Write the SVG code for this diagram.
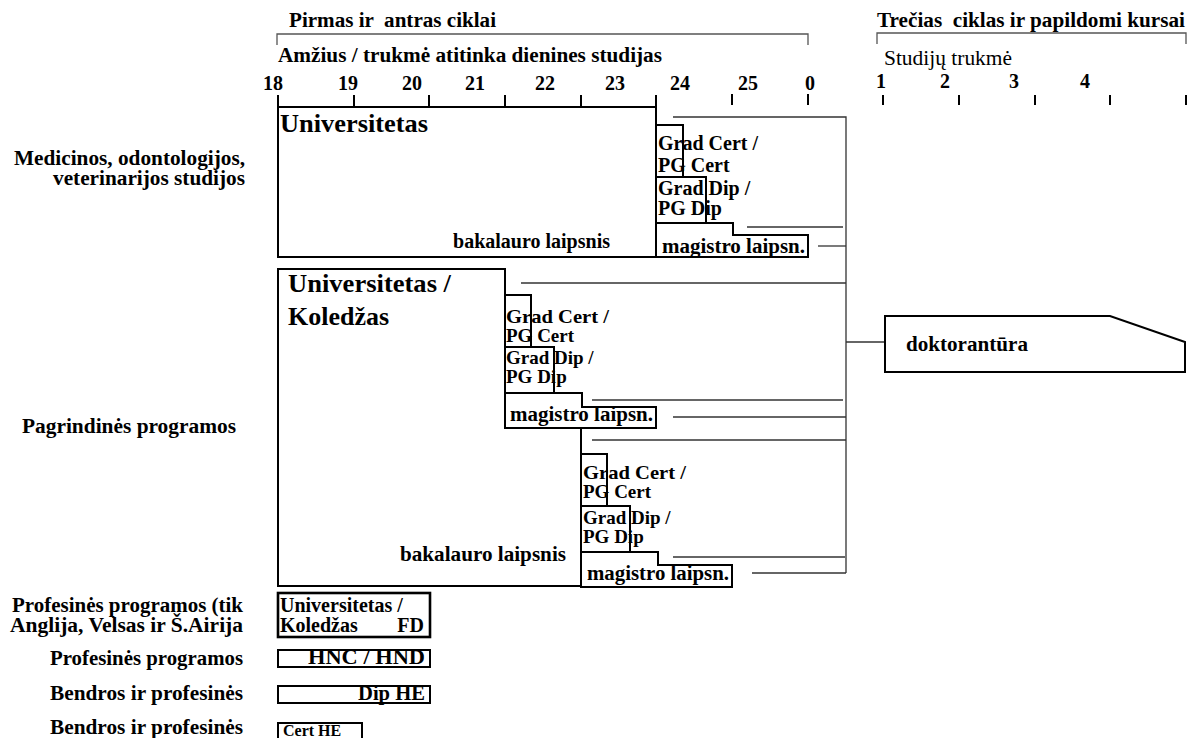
<svg xmlns="http://www.w3.org/2000/svg" width="1196" height="738" viewBox="0 0 1196 738">
  <style>
    .t { font-family: "Liberation Serif", "Times New Roman", serif; font-weight: bold; font-size: 20px; fill: #000; }
    .big { font-size: 26px; }
    .reg { font-weight: normal; }
    .sm { font-size: 16px; }
    .gr { font-size: 19px; }
    .end { text-anchor: end; }
    .mid { text-anchor: middle; }
    .box { fill: none; stroke: #000; stroke-width: 2; }
    .dbl { fill: none; stroke: #000; stroke-width: 2.6; }
    .conn { fill: none; stroke: #333; stroke-width: 1.3; }
    .tick { stroke: #000; stroke-width: 2; }
    .brace { fill: none; stroke: #555; stroke-width: 1.3; }
  </style>
  <rect width="1196" height="738" fill="#fff"/>

  <!-- headings and time scales -->
  <g id="scale-cycles-1-2">
    <text class="t" x="289" y="27" xml:space="preserve" textLength="207" lengthAdjust="spacingAndGlyphs">Pirmas ir  antras ciklai</text>
    <path class="brace" d="M277,45 V34 H808 V45"/>
    <text class="t" x="278" y="62" textLength="384" lengthAdjust="spacingAndGlyphs">Amžius / trukmė atitinka dienines studijas</text>
    <g class="t mid">
      <text x="273" y="90">18</text>
      <text x="348" y="90">19</text>
      <text x="412" y="90">20</text>
      <text x="475" y="90">21</text>
      <text x="545" y="90">22</text>
      <text x="615" y="90">23</text>
      <text x="680" y="90">24</text>
      <text x="748" y="90">25</text>
      <text x="810" y="90">0</text>
    </g>
    <path class="tick" d="M278,95 V107 M354,95 V107 M429,95 V107 M505,95 V107 M581,95 V107 M656,95 V107 M732,94 V105 M808,94 V105"/>
  </g>

  <g id="scale-cycle-3">
    <text class="t" x="877" y="27" xml:space="preserve" textLength="308" lengthAdjust="spacingAndGlyphs">Trečias  ciklas ir papildomi kursai</text>
    <path class="brace" d="M877,44 V33 H1186 V44"/>
    <text class="t reg" x="884" y="65" textLength="128" lengthAdjust="spacingAndGlyphs">Studijų trukmė</text>
    <g class="t mid">
      <text x="881" y="88">1</text>
      <text x="945" y="88">2</text>
      <text x="1014" y="88">3</text>
      <text x="1085" y="88">4</text>
    </g>
    <path class="tick" d="M883,95 V105 M959,95 V105 M1035,95 V105 M1110,95 V105 M1186,95 V105"/>
  </g>

  <!-- row labels -->
  <g id="row-labels" class="t end">
    <text x="245" y="165" textLength="231" lengthAdjust="spacingAndGlyphs">Medicinos, odontologijos,</text>
    <text x="245" y="185" textLength="192" lengthAdjust="spacingAndGlyphs">veterinarijos studijos</text>
    <text x="236" y="433" textLength="214" lengthAdjust="spacingAndGlyphs">Pagrindinės programos</text>
    <text x="243" y="612" textLength="231" lengthAdjust="spacingAndGlyphs">Profesinės programos (tik</text>
    <text x="243" y="632" textLength="233" lengthAdjust="spacingAndGlyphs">Anglija, Velsas ir Š.Airija</text>
    <text x="243" y="665" textLength="193" lengthAdjust="spacingAndGlyphs">Profesinės programos</text>
    <text x="243" y="700" textLength="193" lengthAdjust="spacingAndGlyphs">Bendros ir profesinės</text>
    <text x="243" y="734" textLength="193" lengthAdjust="spacingAndGlyphs">Bendros ir profesinės</text>
  </g>

  <!-- connectors into doctoral studies -->
  <g id="connectors" class="conn">
    <path d="M673,117 H846 V573"/>
    <path d="M747,227 H843"/>
    <path d="M818,246 H846"/>
    <path d="M521,283 H846"/>
    <path d="M846,342 H885"/>
    <path d="M592,400 H843"/>
    <path d="M673,417 H846"/>
    <path d="M592,440 H846"/>
    <path d="M673,557 H845"/>
    <path d="M752,573 H846"/>
  </g>

  <!-- medicine, dentistry, veterinary -->
  <g id="uni-medical">
    <rect class="box" x="278" y="107" width="378" height="150"/>
    <text class="t big" x="280" y="132" textLength="148" lengthAdjust="spacingAndGlyphs">Universitetas</text>
    <text class="t" x="453" y="248" textLength="157" lengthAdjust="spacingAndGlyphs">bakalauro laipsnis</text>
  </g>
  <g id="grad-cert-1">
    <rect class="box" x="656" y="125" width="27" height="52"/>
    <text class="t" x="658" y="150">Grad Cert /</text>
    <text class="t" x="658" y="172">PG Cert</text>
  </g>
  <g id="grad-dip-1">
    <rect class="box" x="656" y="177" width="50" height="46"/>
    <text class="t" x="658" y="195">Grad Dip /</text>
    <text class="t" x="658" y="215">PG Dip</text>
  </g>
  <g id="masters-1">
    <path class="box" d="M656,223 H733 V235 H808 V257 H656 Z"/>
    <text class="t" x="662" y="253" textLength="143" lengthAdjust="spacingAndGlyphs">magistro laipsn.</text>
  </g>

  <!-- main programmes -->
  <g id="uni-college">
    <path class="box" d="M581,428 V586 H278 V269 H505 V395"/>
    <text class="t big" x="288" y="292" textLength="163" lengthAdjust="spacingAndGlyphs">Universitetas /</text>
    <text class="t big" x="288" y="325">Koledžas</text>
    <text class="t end" x="566" y="561" textLength="166" lengthAdjust="spacingAndGlyphs">bakalauro laipsnis</text>
  </g>
  <g id="grad-cert-2">
    <rect class="box" x="505" y="295" width="26" height="52"/>
    <text class="t gr" x="506" y="323" textLength="103" lengthAdjust="spacingAndGlyphs">Grad Cert /</text>
    <text class="t gr" x="506" y="342">PG Cert</text>
  </g>
  <g id="grad-dip-2">
    <rect class="box" x="505" y="347" width="49" height="46"/>
    <text class="t gr" x="506" y="364">Grad Dip /</text>
    <text class="t gr" x="506" y="383">PG Dip</text>
  </g>
  <g id="masters-2">
    <path class="box" d="M505,393 H582 V407 H656 V428 H505 Z"/>
    <text class="t" x="510" y="421" textLength="143" lengthAdjust="spacingAndGlyphs">magistro laipsn.</text>
  </g>
  <g id="grad-cert-3">
    <rect class="box" x="581" y="454" width="26" height="52"/>
    <text class="t gr" x="583" y="479" textLength="103" lengthAdjust="spacingAndGlyphs">Grad Cert /</text>
    <text class="t gr" x="583" y="498">PG Cert</text>
  </g>
  <g id="grad-dip-3">
    <rect class="box" x="581" y="506" width="49" height="46"/>
    <text class="t gr" x="583" y="524">Grad Dip /</text>
    <text class="t gr" x="583" y="543">PG Dip</text>
  </g>
  <g id="masters-3">
    <path class="box" d="M581,552 H658 V565 H732 V587 H581 Z"/>
    <text class="t" x="587" y="580" textLength="142" lengthAdjust="spacingAndGlyphs">magistro laipsn.</text>
  </g>

  <!-- doctoral studies -->
  <g id="doctorate">
    <path class="box" d="M885,316 H1110 L1185,342 V372 H885 Z"/>
    <text class="t" x="906" y="351" textLength="122" lengthAdjust="spacingAndGlyphs">doktorantūra</text>
  </g>

  <!-- vocational and general awards -->
  <g id="foundation-degree">
    <rect class="dbl" x="278" y="593" width="152" height="44"/>
    <text class="t" x="280" y="612">Universitetas /</text>
    <text class="t" x="280" y="632">Koledžas</text>
    <text class="t end" x="424" y="632">FD</text>
  </g>
  <g id="hnc-hnd">
    <rect class="box" x="278" y="650" width="152" height="17"/>
    <text class="t end" x="425" y="664" textLength="117" lengthAdjust="spacingAndGlyphs">HNC / HND</text>
  </g>
  <g id="dip-he">
    <rect class="box" x="278" y="686" width="152" height="17"/>
    <text class="t end" x="425" y="700" textLength="67" lengthAdjust="spacingAndGlyphs">Dip HE</text>
  </g>
  <g id="cert-he">
    <path class="box" d="M278,742 V723 H362 V742"/>
    <text class="t sm" x="283" y="736">Cert HE</text>
  </g>
</svg>
